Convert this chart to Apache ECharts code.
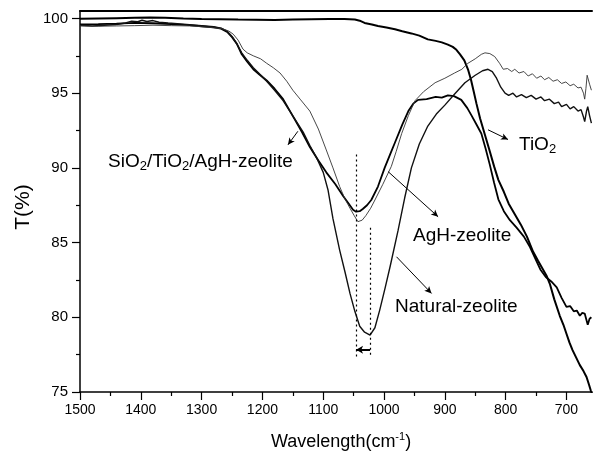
<!DOCTYPE html>
<html>
<head>
<meta charset="utf-8">
<script src="https://cdn.jsdelivr.net/npm/echarts@6/dist/echarts.min.js"></script>
<style>
html, body { margin: 0; padding: 0; background: #fff; }
#chart { width: 595px; height: 457px; }
</style>
</head>
<body>
<div id="chart"></div>
<script>
// axis ticks
var majorX = [700, 800, 900, 1000, 1100, 1200, 1300, 1400, 1500];
var minorX = [750, 850, 950, 1050, 1150, 1250, 1350, 1450];
var majorY = [75, 80, 85, 90, 95, 100];
var minorY = [77.5, 82.5, 87.5, 92.5, 97.5];

// spectra, [wavenumber, T%]
var tio2 = [[1500,99.98],[1470,100.0],[1440,100.02],[1410,100.04],[1385,100.06],[1360,100.04],[1330,100.0],[1300,99.97],[1270,99.95],[1240,99.93],[1210,99.92],[1180,99.9],[1150,99.93],[1120,99.95],[1090,99.97],[1065,99.96],[1048,99.93],[1040,99.85],[1032,99.7],[1020,99.6],[1010,99.5],[996,99.4],[982,99.28],[970,99.15],[955,99.0],[942,98.85],[928,98.6],[915,98.5],[905,98.4],[895,98.25],[887,98.1],[881,97.9],[875,97.6],[868,97.2],[862,96.6],[857,95.9],[853,95.2],[848,94.3],[842,93.3],[834,92.2],[826,91.1],[819,90.1],[812,89.2],[803,88.4],[795,87.6],[785,86.9],[775,86.2],[765,85.4],[755,84.4],[747,83.8],[740,83.3],[733,82.8],[727,82.2],[720,81.2],[711,80.1],[705,79.5],[700,78.9],[695,78.3],[690,77.8],[684,77.3],[678,76.8],[672,76.4],[667,76.0],[663,75.5],[660,75.1],[658,74.9]];

var compositeZeolite = [[1500,99.6],[1470,99.62],[1440,99.65],[1410,99.7],[1380,99.68],[1350,99.62],[1320,99.55],[1300,99.48],[1280,99.4],[1268,99.32],[1258,99.1],[1250,98.75],[1242,98.3],[1234,97.6],[1225,97.1],[1215,96.6],[1205,96.25],[1193,95.85],[1180,95.3],[1166,94.6],[1149,93.4],[1135,92.4],[1122,91.4],[1108,90.5],[1095,89.7],[1080,88.9],[1067,88.1],[1058,87.6],[1051,87.2],[1046,87.07],[1040,87.1],[1035,87.25],[1028,87.5],[1021,87.85],[1010,88.75],[999,90.0],[990,90.9],[982,91.7],[970,92.9],[960,93.8],[952,94.3],[944,94.55],[930,94.6],[915,94.75],[905,94.7],[895,94.85],[885,94.8],[873,94.55],[863,94.0],[856,93.5],[848,92.9],[840,92.3],[833,91.3],[826,90.2],[819,89.0],[812,87.9],[803,87.1],[793,86.5],[782,86.0],[770,85.4],[760,84.7],[752,84.0],[743,83.2],[734,82.7],[725,82.4],[716,82.0],[708,81.3],[700,80.7],[694,80.75],[688,80.4],[683,80.45],[678,80.1],[674,80.3],[670,80.25],[667,79.8],[665,79.5],[662,79.9],[659,80.0]];

var aghZeolite = [[1500,99.5],[1470,99.48],[1440,99.5],[1410,99.52],[1380,99.55],[1350,99.52],[1320,99.5],[1300,99.45],[1280,99.38],[1265,99.3],[1255,99.15],[1248,98.95],[1240,98.55],[1232,97.95],[1225,97.7],[1215,97.5],[1203,97.3],[1193,97.0],[1182,96.7],[1171,96.35],[1160,95.8],[1150,95.2],[1138,94.6],[1122,93.8],[1108,92.6],[1095,91.2],[1084,90.0],[1073,88.75],[1064,87.9],[1056,87.3],[1049,86.8],[1043,86.4],[1036,86.5],[1030,86.8],[1022,87.3],[1015,87.85],[1002,88.9],[988,90.1],[980,91.1],[971,92.3],[960,93.5],[949,94.5],[935,95.1],[916,95.7],[900,96.0],[884,96.35],[872,96.6],[862,97.0],[850,97.3],[840,97.6],[834,97.7],[826,97.65],[818,97.45],[810,97.0],[804,96.6],[797,96.65],[790,96.45],[785,96.6],[778,96.35],[770,96.45],[763,96.15],[756,96.3],[749,96.0],[742,96.15],[736,95.9],[729,96.05],[722,95.8],[715,95.9],[708,95.65],[701,95.75],[694,95.5],[688,95.6],[681,95.35],[676,95.4],[672,95.0],[670,94.6],[668,95.3],[666,96.2],[664,96.3],[662,95.6],[659,95.2]];

var naturalZeolite = [[1500,99.55],[1480,99.5],[1460,99.55],[1440,99.6],[1425,99.7],[1415,99.82],[1405,99.78],[1398,99.88],[1390,99.8],[1380,99.86],[1370,99.75],[1355,99.7],[1330,99.62],[1300,99.52],[1280,99.45],[1268,99.35],[1258,99.15],[1250,98.8],[1242,98.3],[1234,97.7],[1225,97.2],[1215,96.7],[1205,96.3],[1193,95.8],[1180,95.2],[1166,94.5],[1155,93.8],[1144,93.1],[1133,92.4],[1122,91.5],[1110,90.6],[1100,89.7],[1092,88.5],[1084,86.6],[1073,84.5],[1064,83.0],[1056,81.6],[1048,80.4],[1040,79.4],[1032,79.0],[1023,78.8],[1015,79.3],[1007,80.5],[998,82.0],[990,83.4],[977,85.8],[966,88.0],[955,90.0],[942,91.6],[928,92.8],[914,93.6],[900,94.2],[885,94.9],[867,95.7],[850,96.2],[838,96.5],[829,96.6],[822,96.45],[815,96.0],[808,95.4],[801,95.0],[795,94.85],[788,95.0],[782,94.75],[774,94.9],[766,94.7],[758,94.85],[750,94.6],[742,94.75],[736,94.5],[728,94.6],[720,94.3],[713,94.4],[708,94.1],[700,94.25],[694,93.95],[688,94.1],[681,93.8],[676,93.9],[672,93.4],[670,93.1],[667,93.8],[665,94.1],[662,93.5],[659,93.0]];

// peak shift guides and label arrows
var guideLines = [[[1046, 90.9], [1046, 77.3]], [[1023, 86.0], [1023, 77.3]]];
var shiftArrow = [[1023, 77.83], [1046, 77.83]];
var labelArrows = [
    [[1141.7, 92.45], [1158, 91.54]],
    [[993.3, 89.75], [911.1, 86.73]],
    [[979.5, 84.05], [921.9, 81.6]],
    [[829, 92.55], [796.1, 91.9]]
];

var FONT = '"Liberation Sans", Arial, sans-serif';
var chart = echarts.init(document.getElementById('chart'));

var xBase = { type: 'value', min: 658, max: 1500, inverse: true, splitLine: { show: false } };
var yBase = { type: 'value', min: 75, max: 100.5, splitLine: { show: false } };

function lineSeries(name, data, width, color) {
    return {
        name: name,
        type: 'line',
        data: data,
        showSymbol: false,
        lineStyle: { color: color, width: width },
        z: 3
    };
}

var markData = [];
guideLines.forEach(function(g) {
    markData.push([{ coord: g[0], symbol: 'none', lineStyle: { type: [2, 3], width: 1.2 } },
                   { coord: g[1], symbol: 'none' }]);
});
markData.push([{ coord: shiftArrow[0], symbol: 'none', lineStyle: { width: 2 } },
               { coord: shiftArrow[1], symbol: 'arrow', symbolSize: [6, 7] }]);
labelArrows.forEach(function(a) {
    markData.push([{ coord: a[0], symbol: 'none' }, { coord: a[1], symbol: 'arrow', symbolSize: [5, 7] }]);
});

var series = [
    lineSeries('TiO2', tio2, 2, '#000'),
    lineSeries('SiO2/TiO2/AgH-zeolite', compositeZeolite, 1.8, '#000'),
    lineSeries('Natural-zeolite', naturalZeolite, 1.4, '#111'),
    lineSeries('AgH-zeolite', aghZeolite, 0.9, '#333')
];
series[0].markLine = {
    silent: true,
    animation: false,
    label: { show: false },
    lineStyle: { color: '#000', width: 1, type: 'solid' },
    data: markData
};

var labelFont = { fontFamily: FONT, fontSize: 19, fill: '#000' };

option = {
    animation: false,
    backgroundColor: '#fff',
    grid: { left: 80, top: 11, width: 512, height: 381 },
    xAxis: [
        Object.assign({}, xBase, {
            position: 'bottom',
            axisLine: { onZero: false, lineStyle: { color: '#000', width: 1.5 } },
            axisTick: { customValues: majorX, length: 8, lineStyle: { color: '#000', width: 1.2 } },
            axisLabel: {
                customValues: majorX, margin: 11, color: '#000', fontSize: 14, fontFamily: FONT,
                formatter: function(v) { return String(v); }
            }
        }),
        Object.assign({}, xBase, {
            position: 'bottom',
            axisLine: { show: false },
            axisTick: { customValues: minorX, length: 4, lineStyle: { color: '#000', width: 1.2 } },
            axisLabel: { show: false }
        }),
        Object.assign({}, xBase, {
            position: 'top',
            axisLine: { onZero: false, lineStyle: { color: '#000', width: 2 } },
            axisTick: { show: false },
            axisLabel: { show: false }
        })
    ],
    yAxis: [
        Object.assign({}, yBase, {
            position: 'left',
            axisLine: { show: true, onZero: false, lineStyle: { color: '#000', width: 1.5 } },
            axisTick: { show: true, customValues: majorY, length: 8, lineStyle: { color: '#000', width: 1.2 } },
            axisLabel: {
                customValues: majorY, margin: 12, color: '#000', fontSize: 15, fontFamily: FONT,
                formatter: function(v) { return String(v); }
            }
        }),
        Object.assign({}, yBase, {
            position: 'left',
            axisLine: { show: false },
            axisTick: { show: true, customValues: minorY, length: 4, lineStyle: { color: '#000', width: 1.2 } },
            axisLabel: { show: false }
        })
    ],
    series: series,
    graphic: [
        {
            type: 'text', left: 108, top: 152,
            style: {
                text: '{a|SiO}{s|2}{a|/TiO}{s|2}{a|/AgH-zeolite}',
                rich: {
                    a: { fontFamily: FONT, fontSize: 19, lineHeight: 22, verticalAlign: 'middle' },
                    s: { fontFamily: FONT, fontSize: 13, lineHeight: 8, verticalAlign: 'bottom' }
                }
            }
        },
        { type: 'text', left: 413, top: 226, style: Object.assign({ text: 'AgH-zeolite' }, labelFont) },
        { type: 'text', left: 395, top: 297, style: Object.assign({ text: 'Natural-zeolite' }, labelFont) },
        {
            type: 'text', left: 519, top: 135,
            style: {
                text: '{a|TiO}{s|2}',
                rich: {
                    a: { fontFamily: FONT, fontSize: 19, lineHeight: 22, verticalAlign: 'middle' },
                    s: { fontFamily: FONT, fontSize: 13, lineHeight: 8, verticalAlign: 'bottom' }
                }
            }
        },
        {
            type: 'text', left: 271, top: 431,
            style: {
                text: '{a|Wavelength(cm}{p|-1}{a|)}',
                rich: {
                    a: { fontFamily: FONT, fontSize: 18, lineHeight: 22, verticalAlign: 'middle' },
                    p: { fontFamily: FONT, fontSize: 11, lineHeight: 11, verticalAlign: 'top' }
                }
            }
        },
        {
            type: 'text', x: 23, y: 207, rotation: Math.PI / 2,
            style: { text: 'T(%)', fontFamily: FONT, fontSize: 21, fill: '#000', align: 'center', verticalAlign: 'middle' }
        }
    ]
};

chart.setOption(option);
</script>
</body>
</html>
